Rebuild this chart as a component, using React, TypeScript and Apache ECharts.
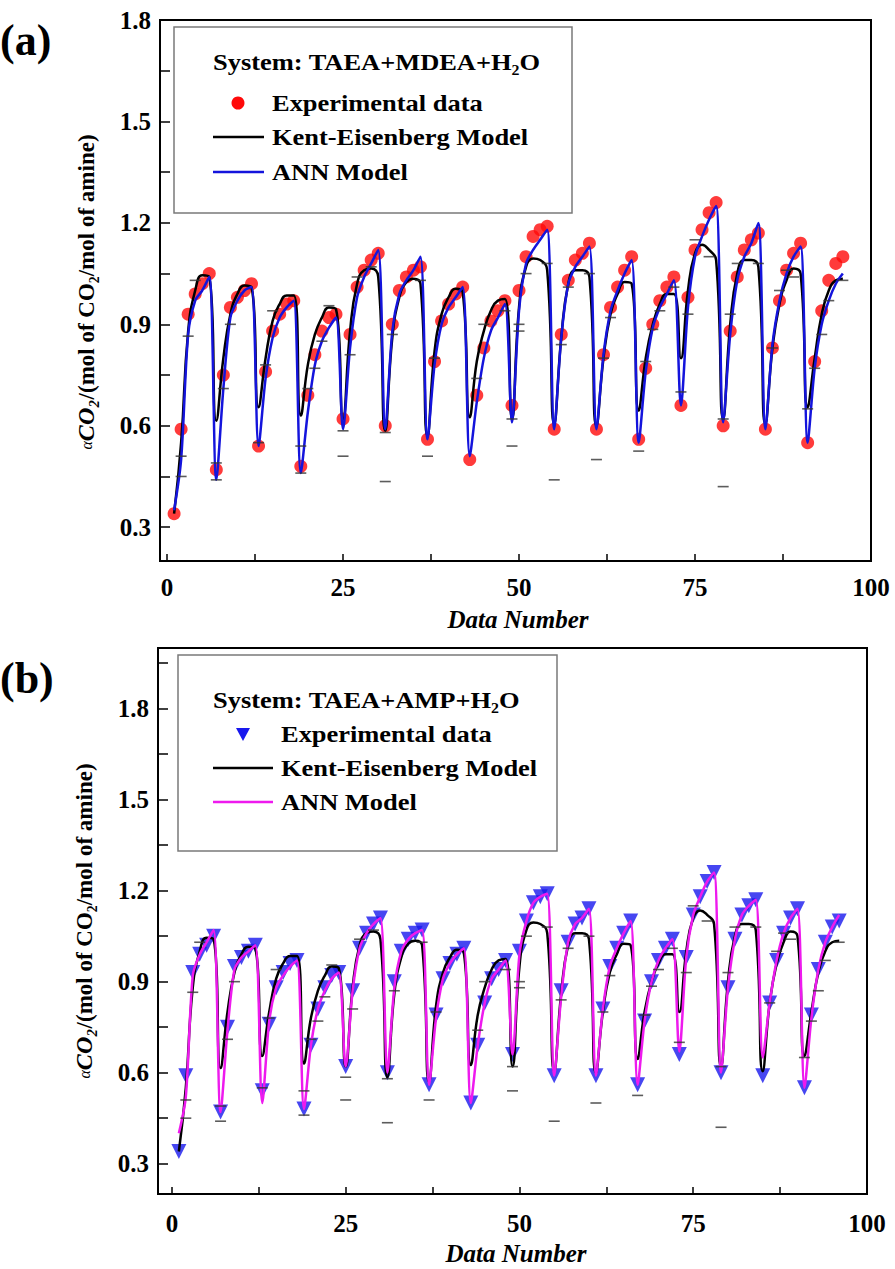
import React, { useEffect, useRef } from "react";
import * as echarts from "echarts";

const SERIF = '"Liberation Serif", "Times New Roman", Times, serif';

// Data number (1..96)
const dataNumbers = Array.from({ length: 96 }, (_, i) => i + 1);

// Experimental CO2 loading (same data in both panels)
const experimental = [
  0.34, 0.59, 0.93, 0.99, 1.02, 1.05,
  0.47, 0.75, 0.95, 0.98, 1.0, 1.02,
  0.54, 0.76, 0.88, 0.93, 0.96, 0.97,
  0.48, 0.69, 0.81, 0.88, 0.92, 0.93,
  0.62, 0.87, 1.01, 1.06, 1.09, 1.11,
  0.6, 0.9, 1.0, 1.04, 1.06, 1.07,
  0.56, 0.79, 0.91, 0.96, 0.99, 1.01,
  0.5, 0.69, 0.83, 0.91, 0.94, 0.97,
  0.66, 1.0, 1.1, 1.16, 1.18, 1.19,
  0.59, 0.87, 1.03, 1.09, 1.11, 1.14,
  0.59, 0.81, 0.95, 1.01, 1.06, 1.1,
  0.56, 0.77, 0.9, 0.97, 1.01, 1.04,
  0.66, 0.98, 1.12, 1.18, 1.23, 1.26,
  0.6, 0.88, 1.04, 1.12, 1.15, 1.17,
  0.59, 0.83, 0.97, 1.06, 1.11, 1.14,
  0.55, 0.79, 0.94, 1.03, 1.08, 1.1,
];

// Kent-Eisenberg model
const keModel = [
  0.34, 0.55, 0.88, 1.0, 1.045, 1.04,
  0.615, 0.8, 0.93, 0.99, 1.015, 1.01,
  0.655, 0.8, 0.91, 0.96, 0.985, 0.985,
  0.63, 0.78, 0.87, 0.92, 0.95, 0.945,
  0.62, 0.88, 1.02, 1.06, 1.065, 1.04,
  0.585, 0.86, 0.98, 1.025, 1.035, 1.02,
  0.57, 0.82, 0.93, 0.98, 1.005, 0.995,
  0.625, 0.79, 0.88, 0.94, 0.97, 0.975,
  0.62, 0.95, 1.07, 1.095, 1.09, 1.06,
  0.605, 0.86, 1.02, 1.06, 1.06, 1.04,
  0.6, 0.8, 0.93, 0.99, 1.025, 1.02,
  0.645, 0.8, 0.9, 0.96, 0.99, 0.99,
  0.8, 1.0, 1.11, 1.135, 1.12, 1.09,
  0.62, 0.9, 1.05, 1.09, 1.09, 1.07,
  0.605, 0.83, 0.96, 1.03, 1.065, 1.05,
  0.655, 0.8, 0.93, 1.0, 1.03, 1.035,
];

// ANN model, panel (a) TAEA+MDEA+H2O
const annModelA = [
  0.35, 0.5, 0.87, 0.97, 1.0, 1.04,
  0.44, 0.71, 0.92, 0.97, 1.0, 1.01,
  0.54, 0.74, 0.86, 0.92, 0.95, 0.97,
  0.46, 0.64, 0.78, 0.85, 0.89, 0.92,
  0.59, 0.83, 0.98, 1.04, 1.08, 1.12,
  0.59, 0.88, 0.99, 1.03, 1.06, 1.1,
  0.56, 0.78, 0.9, 0.95, 0.98, 1.01,
  0.51, 0.67, 0.8, 0.88, 0.92, 0.96,
  0.61, 0.94, 1.08, 1.12, 1.15, 1.18,
  0.59, 0.86, 1.02, 1.07, 1.1, 1.13,
  0.59, 0.81, 0.94, 1.0, 1.05, 1.09,
  0.55, 0.76, 0.89, 0.95, 0.99, 1.03,
  0.66, 0.95, 1.1, 1.16, 1.21, 1.25,
  0.61, 0.87, 1.03, 1.1, 1.14, 1.2,
  0.59, 0.84, 0.97, 1.05, 1.1, 1.13,
  0.55, 0.77, 0.9, 0.97, 1.02, 1.05,
];

// ANN model, panel (b) TAEA+AMP+H2O
const annModelB = [
  0.4, 0.52, 0.92, 0.99, 1.03, 1.07,
  0.47, 0.74, 0.94, 0.98, 1.0, 1.02,
  0.5, 0.77, 0.88, 0.92, 0.95, 0.97,
  0.48, 0.69, 0.81, 0.87, 0.91, 0.93,
  0.62, 0.87, 1.01, 1.06, 1.09, 1.11,
  0.6, 0.88, 1.0, 1.04, 1.06, 1.07,
  0.56, 0.78, 0.91, 0.96, 0.99, 1.01,
  0.5, 0.69, 0.83, 0.91, 0.94, 0.97,
  0.66, 0.99, 1.1, 1.16, 1.18, 1.19,
  0.59, 0.85, 1.03, 1.09, 1.11, 1.14,
  0.59, 0.81, 0.95, 1.01, 1.06, 1.1,
  0.56, 0.77, 0.9, 0.97, 1.01, 1.04,
  0.67, 0.98, 1.12, 1.18, 1.23, 1.26,
  0.6, 0.88, 1.04, 1.12, 1.15, 1.17,
  0.65, 0.83, 0.97, 1.06, 1.11, 1.14,
  0.55, 0.78, 0.94, 1.03, 1.08, 1.12,
];

// Kent-Eisenberg error-bar caps [data number, value]
const keErrorCaps: [number, number][] = [
  [2, 0.51], [2, 0.45], [3, 0.865], [4, 1.03], [7, 0.49], [7, 0.44], [8, 0.71], [9, 0.9],
  [13, 0.55], [14, 0.78], [15, 0.94], [19, 0.54], [19, 0.46], [20, 0.71], [21, 0.77],
  [22, 0.85], [23, 0.955], [25, 0.585], [25, 0.51], [26, 0.81], [27, 1.04], [29, 1.07],
  [31, 0.58], [31, 0.435], [32, 0.87], [36, 1.03], [37, 0.51], [38, 0.8], [44, 0.74],
  [45, 0.9], [48, 0.94], [49, 0.62], [49, 0.54], [50, 0.9], [50, 0.88], [51, 1.05],
  [54, 1.08], [55, 0.44], [56, 0.84], [57, 1.01], [60, 1.05], [61, 0.5], [62, 0.8],
  [63, 0.92], [67, 0.525], [68, 0.79], [69, 0.885], [70, 0.94], [72, 1.01], [73, 0.7],
  [74, 0.93], [75, 1.15], [77, 1.1], [79, 0.62], [79, 0.42], [80, 0.93], [81, 1.08],
  [84, 1.08], [86, 0.83], [87, 1.0], [88, 1.06], [89, 1.04], [91, 0.65], [92, 0.77],
  [93, 0.87], [94, 0.97], [96, 1.03],
];

const xTickValues = [0, 12.5, 25, 37.5, 50, 62.5, 75, 87.5, 100];
const xLabelValues = [0, 25, 50, 75, 100];
const yTickValuesA = [0.3, 0.45, 0.6, 0.75, 0.9, 1.05, 1.2, 1.35, 1.5, 1.65, 1.8];
const yTickValuesB = [0.3, 0.45, 0.6, 0.75, 0.9, 1.05, 1.2, 1.35, 1.5, 1.65, 1.8, 1.95];
const yLabelValues = [0.3, 0.6, 0.9, 1.2, 1.5, 1.8];

const pairs = (arr: number[]) => dataNumbers.map((n, i) => [n, arr[i]]);

function xAxisCfg(gridIndex: number, min: number, margin: number) {
  return {
    type: "value",
    gridIndex,
    min,
    max: 100,
    splitLine: { show: false },
    axisLine: { show: true, onZero: false, lineStyle: { color: "#000", width: 2 } },
    axisTick: { inside: true, length: 7, customValues: xTickValues, lineStyle: { color: "#000", width: 1.5 } },
    axisLabel: {
      customValues: xLabelValues,
      margin,
      color: "#000",
      fontFamily: SERIF,
      fontWeight: "bold",
      fontSize: 25,
      formatter: (v: number) => String(v),
    },
  };
}

function yAxisCfg(gridIndex: number, max: number, ticks: number[]) {
  return {
    type: "value",
    gridIndex,
    min: 0.2,
    max,
    splitLine: { show: false },
    axisLine: { show: true, onZero: false, lineStyle: { color: "#000", width: 2 } },
    axisTick: { inside: true, length: 10, customValues: ticks, lineStyle: { color: "#000", width: 1.5 } },
    axisLabel: {
      customValues: yLabelValues,
      margin: 9,
      color: "#000",
      fontFamily: SERIF,
      fontWeight: "bold",
      fontSize: 25,
      formatter: (v: number) => v.toFixed(1),
    },
  };
}

const legendFont = { fontFamily: SERIF, fontWeight: "bold", fontSize: 23, fill: "#000" };

function legendText(x: number, y: number, text: string) {
  return {
    type: "text",
    x,
    y,
    scaleX: 1.15,
    style: { text, ...legendFont, verticalAlign: "middle", align: "left" },
  };
}

function yTitle(x: number, y: number) {
  return {
    type: "text",
    x,
    y,
    rotation: Math.PI / 2,
    style: {
      text: "{a|α}{c|CO₂}{n|/(mol of CO₂/mol of amine)}",
      align: "center",
      verticalAlign: "middle",
      fill: "#000",
      rich: {
        a: { fontFamily: SERIF, fontSize: 16, fontStyle: "italic", fill: "#000" },
        c: { fontFamily: SERIF, fontSize: 24, fontStyle: "italic", fontWeight: "bold", fill: "#000" },
        n: { fontFamily: SERIF, fontSize: 23, fontWeight: "bold", fill: "#000" },
      },
    },
  };
}

function xTitle(x: number, y: number) {
  return {
    type: "text",
    x,
    y,
    style: {
      text: "Data Number",
      fontFamily: SERIF,
      fontWeight: "bold",
      fontStyle: "italic",
      fontSize: 25,
      fill: "#000",
      align: "center",
      verticalAlign: "middle",
    },
  };
}

export default function App() {
  const ref = useRef<HTMLDivElement>(null);

  useEffect(() => {
    if (!ref.current) return;
    const chart = echarts.init(ref.current, undefined, { renderer: "svg" });

    const option: any = {
      animation: false,
      backgroundColor: "#fff",
      grid: [
        { left: 160, top: 20, width: 711, height: 541, show: true, borderColor: "#000", borderWidth: 2, backgroundColor: "transparent" },
        { left: 158, top: 648, width: 709, height: 546, show: true, borderColor: "#000", borderWidth: 2, backgroundColor: "transparent" },
      ],
      xAxis: [xAxisCfg(0, -1, 14), xAxisCfg(1, -2, 17)],
      yAxis: [yAxisCfg(0, 1.8, yTickValuesA), yAxisCfg(1, 2.0, yTickValuesB)],
      series: [
        // Panel (a)
        {
          name: "Experimental data",
          type: "scatter",
          xAxisIndex: 0,
          yAxisIndex: 0,
          data: pairs(experimental),
          symbol: "circle",
          symbolSize: 13,
          itemStyle: { color: "#ff0a0a" },
          z: 2,
        },
        {
          name: "Kent-Eisenberg Model",
          type: "line",
          xAxisIndex: 0,
          yAxisIndex: 0,
          data: pairs(keModel),
          smooth: 0.5,
          showSymbol: false,
          lineStyle: { color: "#000", width: 2.5 },
          z: 3,
        },
        {
          name: "ANN Model",
          type: "line",
          xAxisIndex: 0,
          yAxisIndex: 0,
          data: pairs(annModelA),
          smooth: 0.3,
          showSymbol: false,
          lineStyle: { color: "#1414dc", width: 2.5 },
          z: 4,
        },
        {
          name: "KE error caps (a)",
          type: "scatter",
          xAxisIndex: 0,
          yAxisIndex: 0,
          data: keErrorCaps,
          symbol: "rect",
          symbolSize: [11, 1.6],
          itemStyle: { color: "#333" },
          z: 5,
        },
        // Panel (b)
        {
          name: "Experimental data (b)",
          type: "scatter",
          xAxisIndex: 1,
          yAxisIndex: 1,
          data: pairs(experimental),
          symbol: "triangle",
          symbolRotate: 180,
          symbolSize: 15,
          itemStyle: { color: "#1818ee" },
          z: 2,
        },
        {
          name: "Kent-Eisenberg Model (b)",
          type: "line",
          xAxisIndex: 1,
          yAxisIndex: 1,
          data: pairs(keModel),
          smooth: 0.5,
          showSymbol: false,
          lineStyle: { color: "#000", width: 2.5 },
          z: 3,
        },
        {
          name: "ANN Model (b)",
          type: "line",
          xAxisIndex: 1,
          yAxisIndex: 1,
          data: pairs(annModelB),
          smooth: 0.3,
          showSymbol: false,
          lineStyle: { color: "#ee1aee", width: 2.5 },
          z: 4,
        },
        {
          name: "KE error caps (b)",
          type: "scatter",
          xAxisIndex: 1,
          yAxisIndex: 1,
          data: keErrorCaps,
          symbol: "rect",
          symbolSize: [11, 1.6],
          itemStyle: { color: "#333" },
          z: 5,
        },
      ],
      graphic: [
        // panel labels
        { type: "text", x: 0, y: 40, style: { text: "(a)", fontFamily: SERIF, fontWeight: "bold", fontSize: 44, fill: "#000", verticalAlign: "middle" } },
        { type: "text", x: 0, y: 678, style: { text: "(b)", fontFamily: SERIF, fontWeight: "bold", fontSize: 44, fill: "#000", verticalAlign: "middle" } },
        // axis titles
        yTitle(86, 292),
        yTitle(84, 921),
        xTitle(518, 619),
        xTitle(516, 1253),
        // legend (a)
        { type: "rect", shape: { x: 174, y: 27, width: 398, height: 186 }, style: { fill: "transparent", stroke: "#7a7a7a", lineWidth: 1.5 } },
        legendText(213, 62, "System: TAEA+MDEA+H₂O"),
        { type: "circle", shape: { cx: 238, cy: 103, r: 6.5 }, style: { fill: "#ff0a0a" } },
        legendText(272, 103, "Experimental data"),
        { type: "line", shape: { x1: 213, y1: 137, x2: 264, y2: 137 }, style: { stroke: "#000", lineWidth: 2.5 } },
        legendText(272, 137, "Kent-Eisenberg Model"),
        { type: "line", shape: { x1: 213, y1: 172, x2: 264, y2: 172 }, style: { stroke: "#1414dc", lineWidth: 2.5 } },
        legendText(272, 172, "ANN Model"),
        // legend (b)
        { type: "rect", shape: { x: 178, y: 655, width: 379, height: 196 }, style: { fill: "transparent", stroke: "#7a7a7a", lineWidth: 1.5 } },
        legendText(213, 700, "System: TAEA+AMP+H₂O"),
        { type: "polygon", shape: { points: [[236, 728], [250, 728], [243, 741]] }, style: { fill: "#1818ee" } },
        legendText(281, 734, "Experimental data"),
        { type: "line", shape: { x1: 213, y1: 768, x2: 273, y2: 768 }, style: { stroke: "#000", lineWidth: 2.5 } },
        legendText(281, 768, "Kent-Eisenberg Model"),
        { type: "line", shape: { x1: 213, y1: 802, x2: 273, y2: 802 }, style: { stroke: "#ee1aee", lineWidth: 2.5 } },
        legendText(281, 802, "ANN Model"),
      ],
    };

    chart.setOption(option);
    return () => chart.dispose();
  }, []);

  return (
    <div
      ref={ref}
      style={{ position: "absolute", left: 0, top: 0, width: 895, height: 1269, background: "#fff" }}
    />
  );
}
